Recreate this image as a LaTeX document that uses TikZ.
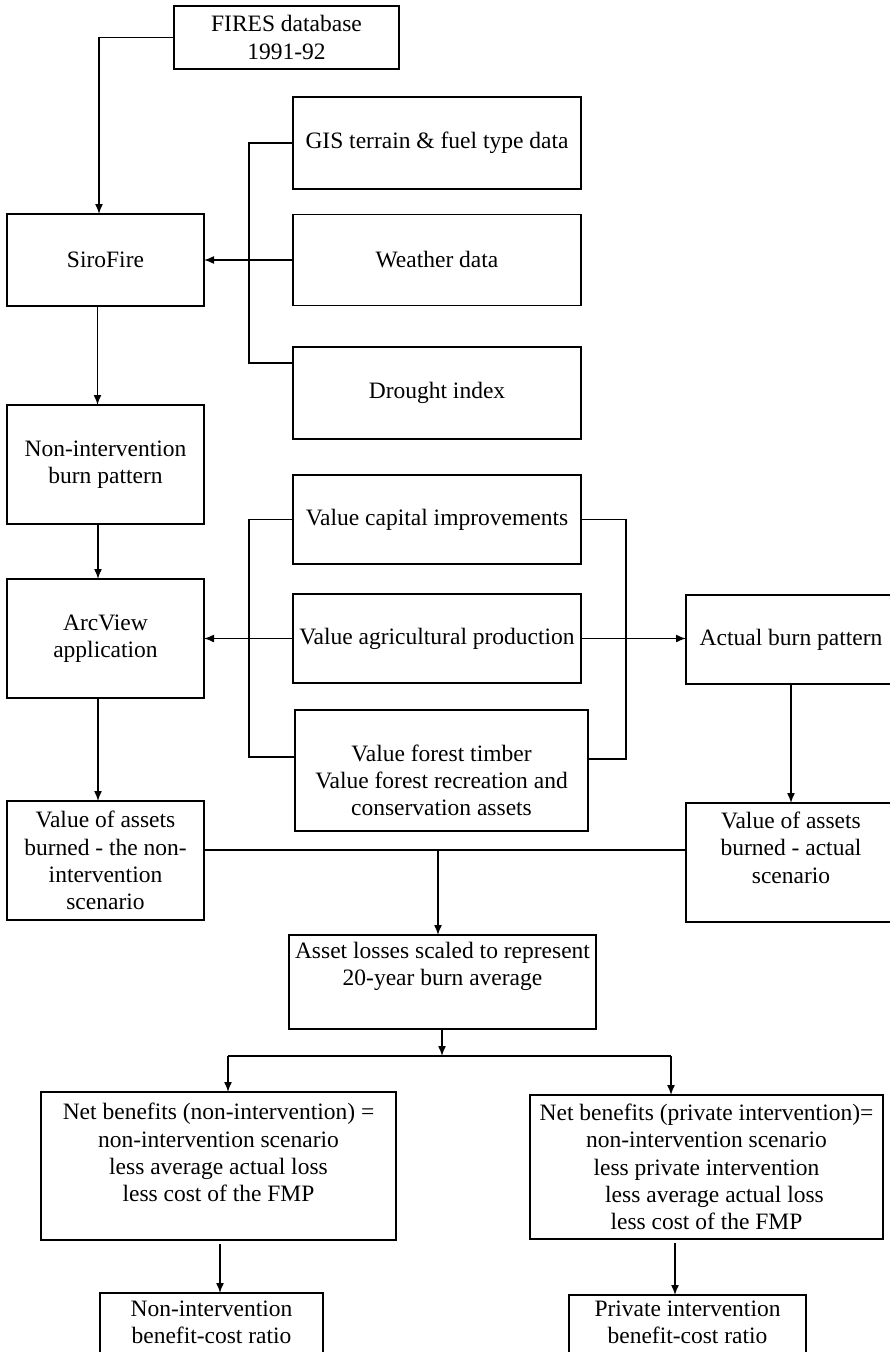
\documentclass[tikz,border=0pt]{standalone}
\usepackage{fontspec}
\setmainfont{Liberation Serif}
\usetikzlibrary{arrows.meta}
\newcommand\fsz{\fontsize{23.5}{27.2}\selectfont}
\begin{document}
\begin{tikzpicture}[x=1pt,y=-1pt,
 box/.style={draw, line width=1.9pt, inner sep=0pt, outer sep=0pt, align=center, font=\fsz},
 txt/.style={inner sep=0pt, align=center, font=\fsz},
 conn/.style={line width=1.5pt},
 arr/.style={conn, -{Latex[length=10pt,width=8pt]}}]
\useasboundingbox[fill=white] (0,0) rectangle (890,1352);
% boxes
\node[box, minimum width=225pt, minimum height=63pt] (fires) at (286.5,37.5) {FIRES database\\1991-92};
\node[box, minimum width=197pt, minimum height=92pt] (sirofire) at (105.5,260) {SiroFire};
\node[box, minimum width=288pt, minimum height=92pt] (gis) at (437,143) {GIS terrain \& fuel type data};
\node[box, minimum width=288pt, minimum height=91pt] (weather) at (437,260) {Weather data};
\node[box, minimum width=288pt, minimum height=92pt] (drought) at (437,393) {Drought index};
\node[box, minimum width=197pt, minimum height=119pt] (nonint) at (105.5,464.5) {Non-intervention\\burn pattern};
\node[box, minimum width=288pt, minimum height=89pt] (capital) at (437,519.5) {Value capital improvements};
\node[box, minimum width=288pt, minimum height=89pt] (agri) at (437,638.5) {Value agricultural production};
\node[box, minimum width=293pt, minimum height=121pt] (forest) at (441.5,770.5) {};
\node[txt] (forestT) at (441.5,780.5) {Value forest timber\\Value forest recreation and\\conservation assets};
\node[box, minimum width=197pt, minimum height=119pt] (arcview) at (105.5,638.5) {ArcView\\application};
\node[box, minimum width=210pt, minimum height=89pt] (actual) at (791,639.5) {Actual burn pattern};
\node[box, minimum width=210pt, minimum height=119pt] (valact) at (791,862.5) {};
\node[txt] (valactT) at (791,847.7) {Value of assets\\burned - actual\\scenario};
\node[box, minimum width=197pt, minimum height=119pt] (valnon) at (105.5,860.5) {Value of assets\\burned - the non-\\intervention\\scenario};
\node[box, minimum width=307pt, minimum height=94pt] (asset) at (442.5,982) {};
\node[txt] (assetT) at (442.5,966.5) {Asset losses scaled to represent\\20-year burn average};
\node[box, minimum width=355pt, minimum height=148pt] (netl) at (218.5,1166) {};
\node[txt] (netlT) at (218.5,1152.5) {Net benefits (non-intervention) =\\non-intervention scenario\\less average actual loss\\less cost of the FMP};
\node[box, minimum width=353pt, minimum height=144pt] (netr) at (706.5,1167) {Net benefits (private intervention)=\\non-intervention scenario\\less private intervention\\\hspace*{16pt}less average actual loss\\less cost of the FMP};
\node[box, minimum width=223pt, minimum height=69pt] (finall) at (211.5,1327.5) {};
\node[txt] (finallT) at (211.5,1322.5) {Non-intervention\\benefit-cost ratio};
\node[box, minimum width=237pt, minimum height=67pt] (finalr) at (687.5,1328.5) {};
\node[txt] (finalrT) at (687.5,1322.5) {Private intervention\\benefit-cost ratio};
% connectors
\draw[arr] (fires.west) -| ([xshift=-6.5pt]sirofire.north);
\coordinate (bl1) at (249,363);
\draw[conn] (gis.west) -| (bl1) -- (drought.west |- bl1);
\draw[arr] (weather.west) -- (sirofire.east);
\draw[arr] ([xshift=-8pt]sirofire.south) -- ([xshift=-8pt]nonint.north);
\draw[arr] ([xshift=-7.5pt]nonint.south) -- ([xshift=-7.5pt]arcview.north);
\coordinate (bl2) at (249,757);
\draw[conn] (capital.west) -| (bl2) -- (forest.west |- bl2);
\coordinate (br2) at (626,759);
\draw[conn] (capital.east) -| (br2) -- (forest.east |- br2);
\draw[arr] (agri.west) -- (arcview.east |- agri.west);
\draw[arr] (agri.east) -- (actual.west |- agri.east);
\draw[arr] (actual.south) -- (valact.north);
\draw[arr] ([xshift=-7.5pt]arcview.south) -- ([xshift=-7.5pt]valnon.north);
\coordinate (hj) at (438,850);
\draw[conn] (valnon.east |- hj) -- (valact.west |- hj);
\draw[arr] (hj) -- (asset.north -| hj);
\coordinate (sp) at (442,1056);
\draw[arr] (asset.south -| sp) -- (sp);
\coordinate (spl) at (228,1056);
\coordinate (spr) at (671,1056);
\draw[conn] (spl) -- (spr);
\draw[arr] (spl) -- (netl.north -| spl);
\draw[arr] (spr) -- (netr.north -| spr);
\coordinate (dl) at (220,1244);
\coordinate (dr) at (675,1243);
\draw[arr] (dl) -- (finall.north -| dl);
\draw[arr] (dr) -- (finalr.north -| dr);
\end{tikzpicture}
\end{document}
